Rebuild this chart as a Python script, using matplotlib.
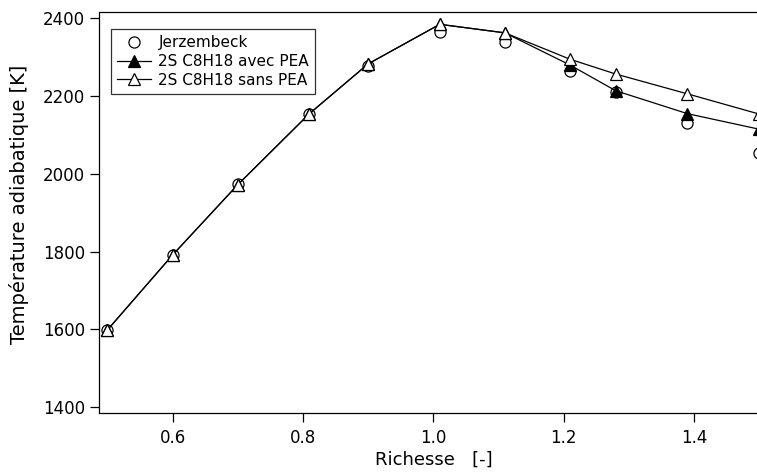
import numpy as np
import matplotlib
matplotlib.use("Agg")
import matplotlib.pyplot as plt

# ─── Data ────────────────────────────────────────────────────────────────────
richesse = [0.5, 0.6, 0.7, 0.81, 0.9, 1.01, 1.11, 1.21, 1.28, 1.39, 1.5]
jerzembeck = [1597, 1790, 1973, 2154, 2279, 2366, 2340, 2266, 2210, 2130, 2053]
avec_pea = [1598, 1791, 1972, 2155, 2283, 2385, 2363, 2280, 2214, 2155, 2115]
sans_pea = [1598, 1791, 1972, 2155, 2283, 2385, 2363, 2295, 2257, 2206, 2154]

yticks = [1400, 1600, 1800, 2000, 2200, 2400]
xticks = [0.6, 0.8, 1.0, 1.2, 1.4]

plt.rcParams["font.family"] = ["DejaVu Sans"]

fig = plt.figure(figsize=(7.57, 4.75), dpi=100, facecolor="white")
W, H = 757, 475
ax = fig.add_axes([99.5 / W, 1 - 413 / H, (759.2 - 99.5) / W, (413 - 12) / H])

# circles at the bottom, then filled triangles, open triangles on top
ax.plot(richesse, jerzembeck, linestyle="none", marker="o", ms=8,
        mfc="white", mec="black", mew=0.9, label="Jerzembeck", zorder=3)
ax.plot(richesse, avec_pea, color="black", lw=0.9, marker="^", ms=9,
        mfc="black", mec="black", mew=0.9, label="2S C8H18 avec PEA", zorder=4)
ax.plot(richesse, sans_pea, color="black", lw=0.9, marker="^", ms=9,
        mfc="white", mec="black", mew=0.9, label="2S C8H18 sans PEA", zorder=5)

ax.set_xlim(0.488, 1.5)
ax.set_ylim(1384.6, 2416.7)
ax.set_xticks(xticks)
ax.set_xticklabels([f"{v:.1f}" for v in xticks])
ax.set_yticks(yticks)

ax.tick_params(direction="out", length=6.5, width=0.9, labelsize=12,
               colors="black", top=False, right=False)
ax.tick_params(axis="x", pad=5)
ax.tick_params(axis="y", pad=4)
for s in ax.spines.values():
    s.set_linewidth(0.9)
    s.set_color("black")
ax.spines["right"].set_visible(False)

ax.set_xlabel("Richesse   [-]", fontsize=13)
ax.set_ylabel("Température adiabatique [K]", fontsize=14)
ax.xaxis.set_label_coords((434 - 99.5) / 659.7, -(451 - 413) / 401)
ax.yaxis.set_label_coords(-(99.5 - 29) / 659.7, 0.52)

leg = ax.legend(loc="upper left", bbox_to_anchor=(11.5 / 659.7, 1 - 17 / 401),
                borderaxespad=0, fontsize=11, frameon=True, fancybox=False,
                shadow=False, handlelength=2.2, handletextpad=0.5,
                borderpad=0.4, labelspacing=0.25)
leg.get_frame().set_edgecolor("black")
leg.get_frame().set_linewidth(0.9)

fig.savefig("out.png", dpi=100, facecolor="white")
